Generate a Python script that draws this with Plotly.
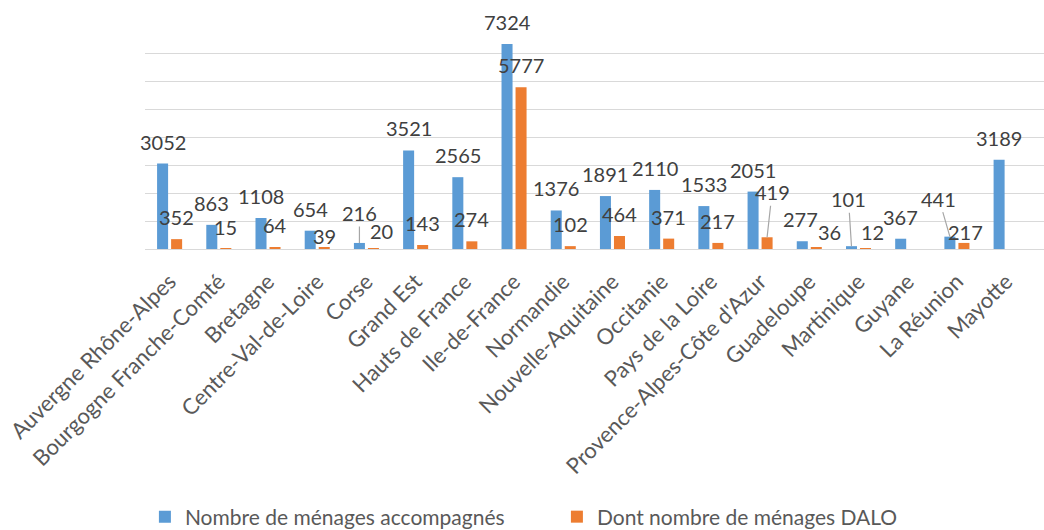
import plotly.graph_objects as go

categories = ["Auvergne Rhône-Alpes", "Bourgogne Franche-Comté", "Bretagne", "Centre-Val-de-Loire",
              "Corse", "Grand Est", "Hauts de France", "Ile-de-France", "Normandie",
              "Nouvelle-Aquitaine", "Occitanie", "Pays de la Loire", "Provence-Alpes-Côte d'Azur",
              "Guadeloupe", "Martinique", "Guyane", "La Réunion", "Mayotte"]
accompagnes = [3052, 863, 1108, 654, 216, 3521, 2565, 7324, 1376, 1891, 2110, 1533, 2051,
               277, 101, 367, 441, 3189]
dalo = [352, 15, 64, 39, 20, 143, 274, 5777, 102, 464, 371, 217, 419, 36, 12, None, 217, None]

series_names = ["Nombre de ménages accompagnés", "Dont nombre de ménages DALO"]
colors = ["#5B9BD5", "#ED7D31"]

# label placement tweaks (pixels): (series index, category) -> (dx, dy above bar top, leader line)
DEFAULT_DY = 22
label_tweaks = {
    (1, "Centre-Val-de-Loire"): (0, 12, False),
    (0, "Corse"): (0, 30, True),
    (1, "Corse"): (8, 17, False),
    (1, "Provence-Alpes-Côte d'Azur"): (5, 45, True),
    (0, "Guadeloupe"): (-2, 22, False),
    (1, "Guadeloupe"): (13, 16, False),
    (0, "Martinique"): (-3, 47, True),
    (1, "Martinique"): (7, 17, False),
    (0, "La Réunion"): (-11, 38, True),
    (1, "La Réunion"): (2, 11, False),
}
group_shift = [-7, 7]

FONT = "Lato, Calibri, sans-serif"

fig = go.Figure()
for i, (name, vals) in enumerate(zip(series_names, [accompagnes, dalo])):
    fig.add_trace(go.Bar(x=categories, y=vals, name=name, marker_color=colors[i],
                         marker_line_width=0))

annotations = []
for i, vals in enumerate([accompagnes, dalo]):
    for cat, v in zip(categories, vals):
        if v is None:
            continue
        dx, dy, leader = label_tweaks.get((i, cat), (0, DEFAULT_DY, False))
        if leader:
            annotations.append(dict(x=cat, y=v, xref="x", yref="y", text=str(v),
                                    showarrow=True, arrowhead=0, arrowwidth=1.2,
                                    arrowcolor="#a6a6a6", ax=dx, ay=-dy, standoff=0,
                                    xshift=group_shift[i],
                                    font=dict(family=FONT, size=20, color="#404040")))
        else:
            annotations.append(dict(x=cat, y=v, xref="x", yref="y", text=str(v),
                                    showarrow=False, xshift=group_shift[i] + dx, yshift=dy,
                                    yanchor="middle",
                                    font=dict(family=FONT, size=20, color="#404040")))

fig.update_layout(
    width=1044, height=530,
    margin=dict(l=145, r=0, t=25, b=281),
    plot_bgcolor="white", paper_bgcolor="white",
    barmode="group", bargap=0.43, bargroupgap=0.214,
    font=dict(family=FONT, color="#595959"),
    annotations=annotations,
    legend=dict(orientation="h", xref="container", yref="container",
                x=0.1388, xanchor="left", y=0.0245, yanchor="middle",
                entrywidth=367, font=dict(family=FONT, size=21, color="#595959")),
    showlegend=True,
)
fig.update_xaxes(range=[-0.5, 17.77], tickangle=-45, tickfont=dict(family=FONT, size=22, color="#595959"),
                 showline=True, linecolor="#d9d9d9", linewidth=1,
                 ticks="outside", ticklen=10, tickcolor="rgba(0,0,0,0)",
                 showgrid=False)
fig.update_yaxes(range=[0, 8000.5], tick0=0, dtick=1000, showticklabels=False, gridcolor="#d9d9d9",
                 gridwidth=1, zeroline=False, showline=False)

fig.write_html("out.html", config={"displayModeBar": False},
               post_script="document.body.style.margin='0px';document.body.style.overflow='hidden';")
